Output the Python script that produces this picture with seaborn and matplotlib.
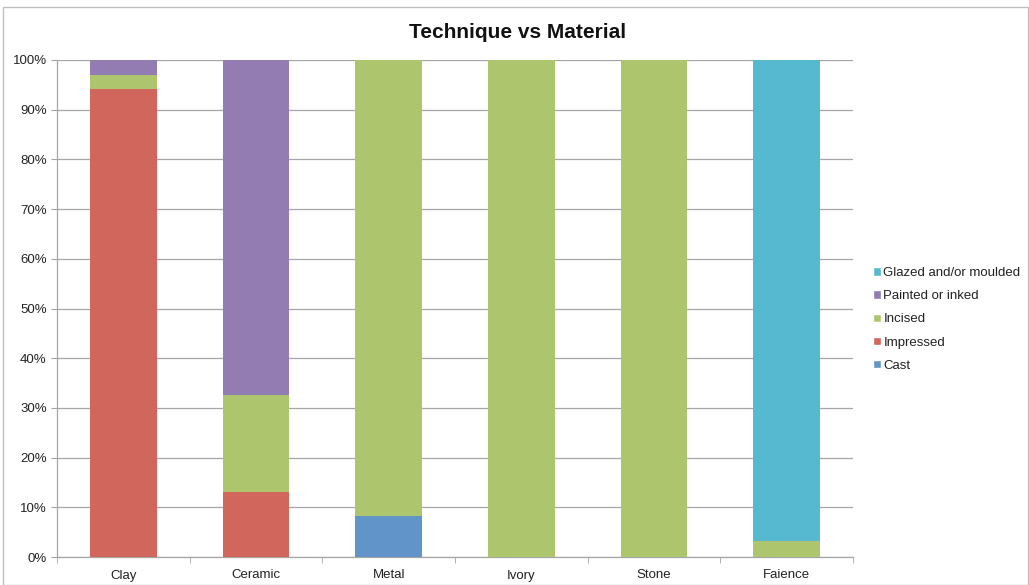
import numpy as np
import pandas as pd
import seaborn as sns
import matplotlib.pyplot as plt
from matplotlib.patches import Patch, Rectangle
from matplotlib.ticker import PercentFormatter, FixedLocator

materials = ["Clay", "Ceramic", "Metal", "Ivory", "Stone", "Faience"]
techniques = ["Cast", "Impressed", "Incised", "Painted or inked", "Glazed and/or moulded"]

# percentage share of each technique per material (bottom to top)
cast = [0.0, 0.0, 8.3, 0.0, 0.0, 0.0]
impressed = [94.1, 13.0, 0.0, 0.0, 0.0, 0.0]
incised = [2.9, 19.6, 91.7, 100.0, 100.0, 3.2]
painted = [3.0, 67.4, 0.0, 0.0, 0.0, 0.0]
glazed = [0.0, 0.0, 0.0, 0.0, 0.0, 96.8]

colors = ["#6195c9", "#d0665c", "#adc66e", "#927cb2", "#56b9d0"]

series = [cast, impressed, incised, painted, glazed]
cum = np.cumsum(np.array(series), axis=0)

sns.set_style("white")
plt.rcParams["font.family"] = ["Liberation Sans", "DejaVu Sans"]

fig = plt.figure(figsize=(10.29, 5.85), dpi=100)
ax = fig.add_axes([57 / 1029, 28 / 585, 796 / 1029, 497 / 585])

# draw cumulative totals from the top layer down so each one overlaps the next
for i in reversed(range(len(techniques))):
    df = pd.DataFrame({"material": materials, "value": cum[i]})
    sns.barplot(data=df, x="material", y="value", color=colors[i],
                width=0.505, saturation=1, ax=ax, zorder=3, linewidth=0)

ax.set_ylim(0, 100)
ax.set_xlim(-0.5, 5.5)
ax.set_yticks(np.arange(0, 101, 10))
ax.yaxis.set_major_formatter(PercentFormatter(decimals=0))
ax.yaxis.grid(True, color="#a6a6a6", linewidth=0.9, zorder=0)
ax.set_xlabel("")
ax.set_ylabel("")

for s in ["top", "right"]:
    ax.spines[s].set_visible(False)
for s in ["left", "bottom"]:
    ax.spines[s].set_color("#a6a6a6")
    ax.spines[s].set_linewidth(0.9)

ax.tick_params(axis="x", which="major", length=0, labelsize=9.5, colors="#222222", pad=9)
ax.xaxis.set_minor_locator(FixedLocator(np.arange(-0.5, 6, 1)))
ax.tick_params(axis="x", which="minor", length=4, color="#a6a6a6", bottom=True)
ax.tick_params(axis="y", length=4, color="#a6a6a6", labelsize=9.5, labelcolor="#222222", left=True)

fig.text(518 / 1029, 1 - 33 / 585, "Technique vs Material", fontsize=15, fontweight="bold",
         color="#111111", ha="center", va="center")

handles = [Patch(facecolor=colors[i], label=techniques[i]) for i in reversed(range(len(techniques)))]
ax.legend(handles=handles, loc="center left", bbox_to_anchor=(1.01, 0.478), frameon=False,
          fontsize=9.5, handlelength=0.6, handleheight=0.6, handletextpad=0.2,
          labelspacing=0.85, labelcolor="#222222")

fig.patches.append(Rectangle((3 / 1029, 0), 1 - 4 / 1029, 1 - 7 / 585, transform=fig.transFigure,
                             fill=False, edgecolor="#bfbfbf", linewidth=1))

fig.savefig("out.png", dpi=100)
